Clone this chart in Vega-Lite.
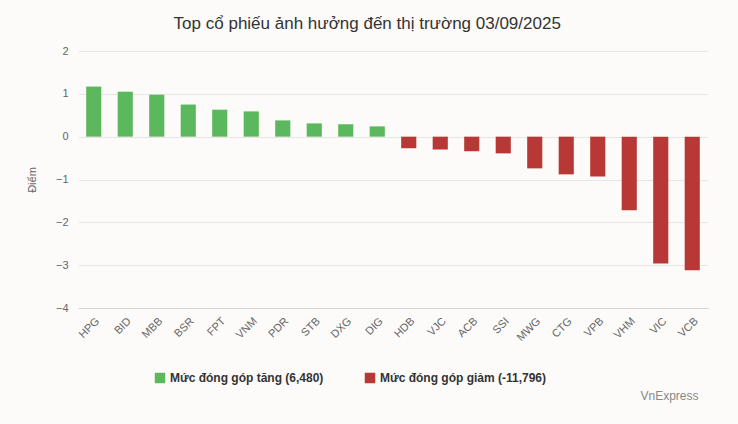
{
  "$schema": "https://vega.github.io/schema/vega-lite/v6.json",
  "autosize": "none",
  "width": 630,
  "height": 257,
  "padding": {"left": 78, "top": 51, "right": 30, "bottom": 116},
  "background": "#fcfbf9",
  "title": {
    "text": "Top cổ phiếu ảnh hưởng đến thị trường 03/09/2025",
    "anchor": "middle",
    "frame": "bounds",
    "font": "Liberation Sans",
    "fontSize": 17,
    "fontWeight": "normal",
    "color": "#333333",
    "offset": 12
  },
  "config": {
    "view": {"stroke": null},
    "font": "Liberation Sans"
  },
  "data": {
    "values": [
      {"ma": "HPG", "diem": 1.17, "nhom": "Mức đóng góp tăng (6,480)"},
      {"ma": "BID", "diem": 1.05, "nhom": "Mức đóng góp tăng (6,480)"},
      {"ma": "MBB", "diem": 0.98, "nhom": "Mức đóng góp tăng (6,480)"},
      {"ma": "BSR", "diem": 0.75, "nhom": "Mức đóng góp tăng (6,480)"},
      {"ma": "FPT", "diem": 0.63, "nhom": "Mức đóng góp tăng (6,480)"},
      {"ma": "VNM", "diem": 0.59, "nhom": "Mức đóng góp tăng (6,480)"},
      {"ma": "PDR", "diem": 0.38, "nhom": "Mức đóng góp tăng (6,480)"},
      {"ma": "STB", "diem": 0.31, "nhom": "Mức đóng góp tăng (6,480)"},
      {"ma": "DXG", "diem": 0.29, "nhom": "Mức đóng góp tăng (6,480)"},
      {"ma": "DIG", "diem": 0.24, "nhom": "Mức đóng góp tăng (6,480)"},
      {"ma": "HDB", "diem": -0.27, "nhom": "Mức đóng góp giảm (-11,796)"},
      {"ma": "VJC", "diem": -0.30, "nhom": "Mức đóng góp giảm (-11,796)"},
      {"ma": "ACB", "diem": -0.34, "nhom": "Mức đóng góp giảm (-11,796)"},
      {"ma": "SSI", "diem": -0.39, "nhom": "Mức đóng góp giảm (-11,796)"},
      {"ma": "MWG", "diem": -0.74, "nhom": "Mức đóng góp giảm (-11,796)"},
      {"ma": "CTG", "diem": -0.88, "nhom": "Mức đóng góp giảm (-11,796)"},
      {"ma": "VPB", "diem": -0.93, "nhom": "Mức đóng góp giảm (-11,796)"},
      {"ma": "VHM", "diem": -1.72, "nhom": "Mức đóng góp giảm (-11,796)"},
      {"ma": "VIC", "diem": -2.96, "nhom": "Mức đóng góp giảm (-11,796)"},
      {"ma": "VCB", "diem": -3.12, "nhom": "Mức đóng góp giảm (-11,796)"}
    ]
  },
  "mark": {"type": "bar"},
  "encoding": {
    "x": {
      "field": "ma",
      "type": "nominal",
      "sort": null,
      "scale": {"paddingInner": 0.52, "paddingOuter": 0.26},
      "axis": {
        "title": "VnExpress",
        "titleX": 620,
        "titleY": 91,
        "titleAlign": "right",
        "titleBaseline": "alphabetic",
        "titleFontSize": 12,
        "titleFontWeight": "normal",
        "titleColor": "#888888",
        "labelAngle": -45,
        "labelFontSize": 11,
        "labelColor": "#666666",
        "labelPadding": 7,
        "ticks": false,
        "domainColor": "#d4d4d4",
        "grid": false
      }
    },
    "y": {
      "field": "diem",
      "type": "quantitative",
      "scale": {"domain": [-4, 2], "nice": false},
      "axis": {
        "title": "Điểm",
        "titleFontSize": 11,
        "titleFontWeight": "normal",
        "titleColor": "#666666",
        "titlePadding": 18,
        "values": [-4, -3, -2, -1, 0, 1, 2],
        "labelFontSize": 11,
        "labelColor": "#666666",
        "labelPadding": 10,
        "ticks": false,
        "domain": false,
        "gridColor": "#e6e6e6"
      }
    },
    "color": {
      "field": "nhom",
      "type": "nominal",
      "sort": ["Mức đóng góp tăng (6,480)", "Mức đóng góp giảm (-11,796)"],
      "scale": {
        "domain": ["Mức đóng góp tăng (6,480)", "Mức đóng góp giảm (-11,796)"],
        "range": ["#5cb85c", "#b83836"]
      },
      "legend": {
        "title": null,
        "orient": "none",
        "direction": "horizontal",
        "legendX": 76,
        "legendY": 321,
        "symbolType": "square",
        "symbolSize": 110,
        "symbolStrokeWidth": 0,
        "labelFontSize": 12,
        "labelFontWeight": "bold",
        "labelColor": "#333333",
        "labelLimit": 300,
        "columnPadding": 40
      }
    }
  }
}
